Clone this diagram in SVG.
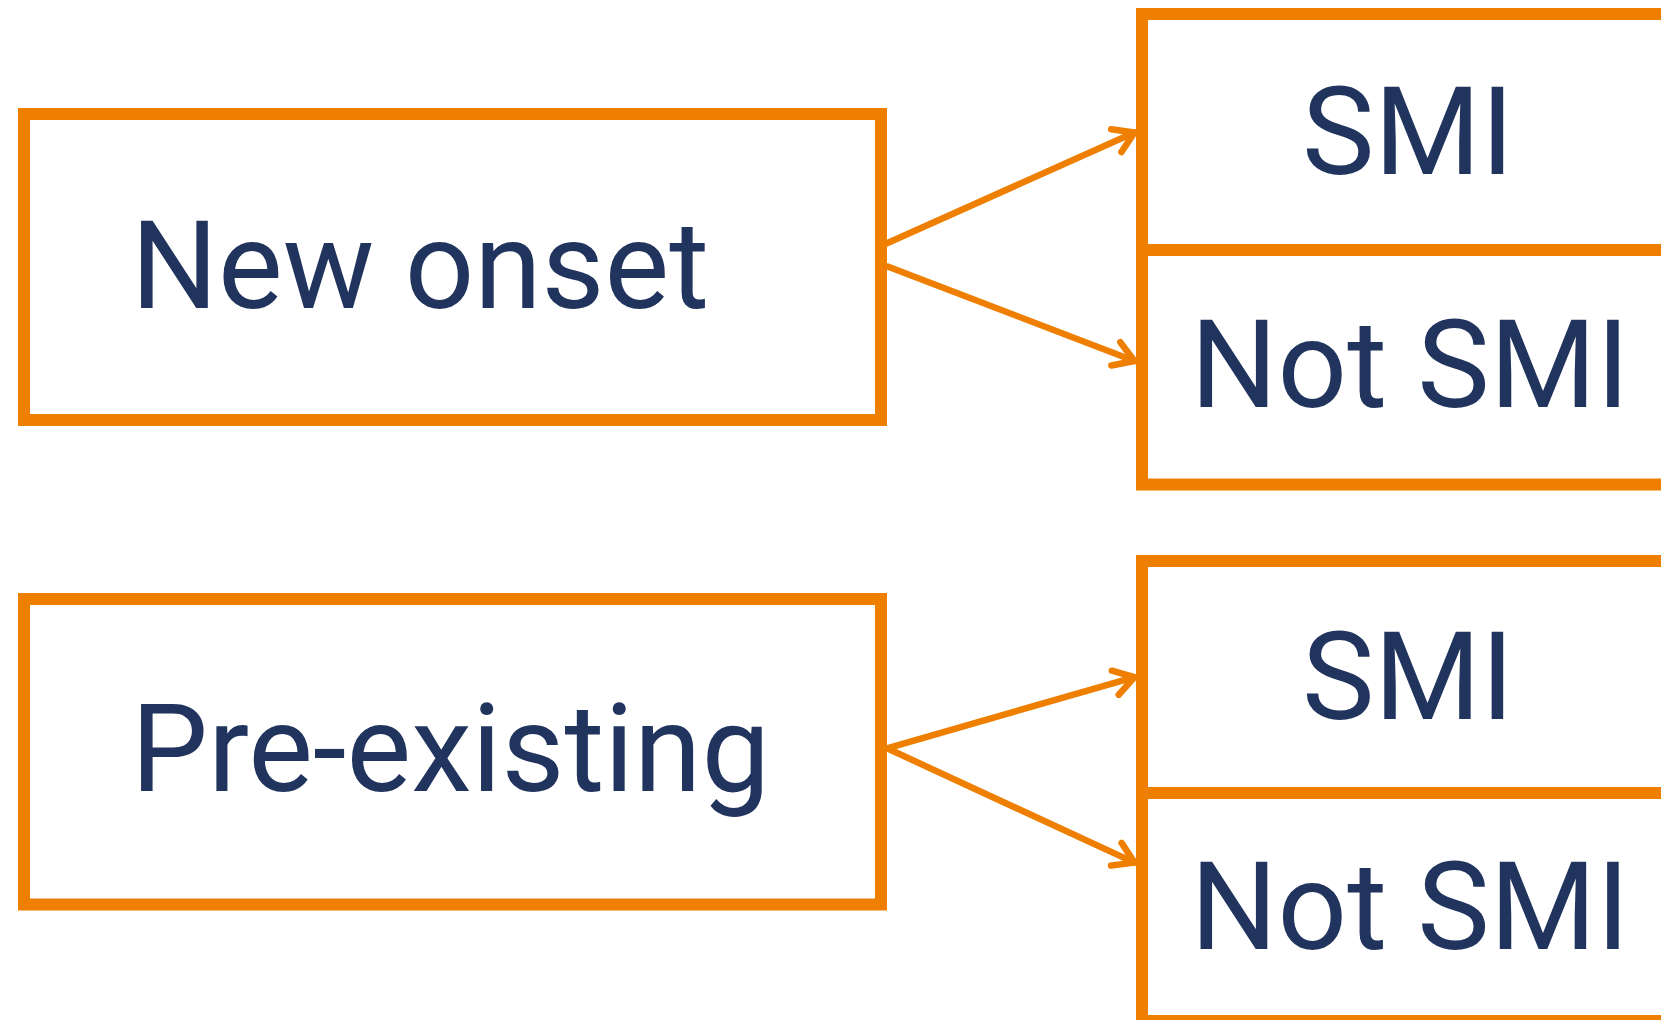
<svg xmlns="http://www.w3.org/2000/svg" width="1661" height="1020" viewBox="0 0 1661 1020">
<style>
.box{fill:#ffffff;stroke:#EF7F00;stroke-width:12}
.lbl{font-family:Roboto,"Liberation Sans",sans-serif;font-size:122px;fill:#21345E}
.conn{fill:none;stroke:#EF7F00;stroke-width:6.5;stroke-linecap:round}
</style>
<defs>
<marker id="arr" markerUnits="userSpaceOnUse" markerWidth="40" markerHeight="40" refX="0" refY="0" viewBox="-30 -20 40 40" orient="auto" overflow="visible">
<path d="M -20 -12.5 L 0 0 L -20 12.5" fill="none" stroke="#EF7F00" stroke-width="6.5" stroke-linecap="round" stroke-linejoin="round"/>
</marker>
</defs>
<rect width="1661" height="1020" fill="#ffffff"/>
<g id="new-onset">
<rect class="box" x="24" y="114" width="857" height="306"/>
<text class="lbl" x="131" y="308">New onset</text>
</g>
<g id="pre-existing">
<rect class="box" x="24" y="599" width="857" height="305.5"/>
<text class="lbl" x="131" y="791">Pre-existing</text>
</g>
<g id="smi-1">
<rect class="box" x="1142" y="14" width="560" height="236"/>
<text class="lbl" x="1408" y="174" text-anchor="middle">SMI</text>
</g>
<g id="not-smi-1">
<rect class="box" x="1142" y="250" width="560" height="234.5"/>
<text class="lbl" x="1410" y="406.7" text-anchor="middle">Not SMI</text>
</g>
<g id="smi-2">
<rect class="box" x="1142" y="561" width="560" height="232"/>
<text class="lbl" x="1408" y="719.3" text-anchor="middle">SMI</text>
</g>
<g id="not-smi-2">
<rect class="box" x="1142" y="793" width="560" height="228"/>
<text class="lbl" x="1410" y="949.3" text-anchor="middle">Not SMI</text>
</g>
<g id="connectors">
<line class="conn" x1="887" y1="243.3" x2="1134.5" y2="132.5" marker-end="url(#arr)"/>
<line class="conn" x1="888.3" y1="266.7" x2="1134.5" y2="361" marker-end="url(#arr)"/>
<line class="conn" x1="887" y1="748.3" x2="1134.5" y2="677.2" marker-end="url(#arr)"/>
<line class="conn" x1="887" y1="748.3" x2="1134.5" y2="862.6" marker-end="url(#arr)"/>
</g>
</svg>
